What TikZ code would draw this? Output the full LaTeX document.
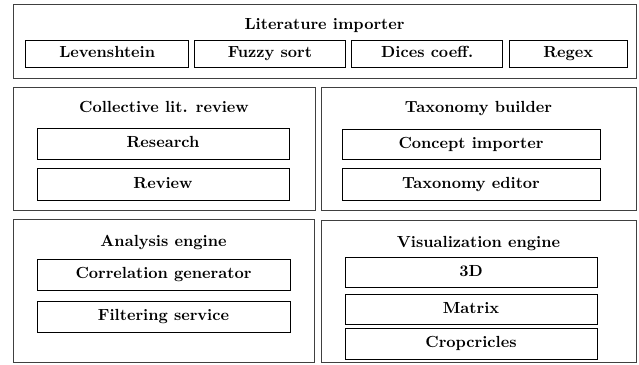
\documentclass[tikz,border=0pt]{standalone}
\begin{document}
\begin{tikzpicture}[x=0.6211pt,y=-0.6211pt,
  bx/.style n args={2}{draw=black, line width=0.5pt, inner sep=0pt, outer sep=0pt,
    minimum width=#1*0.6211pt, minimum height=#2*0.6211pt,
    font=\bfseries, text height=6.9pt, text depth=1.9pt},
  outerbox/.style n args={2}{draw=black!75, line width=0.55pt, inner sep=0pt, outer sep=0pt,
    minimum width=#1*0.6211pt, minimum height=#2*0.6211pt},
  ttl/.style={font=\bfseries, inner sep=0pt, text height=6.9pt, text depth=1.9pt}]
\useasboundingbox (0,0) rectangle (639,365);
% top group
\node[outerbox={623}{74}] (litbox) at (324.5,41) {};
\node[ttl] (littitle) at (324.5,25) {Literature importer};
\node[bx={163}{27}] (lev) at (107.2,53.5) {Levenshtein};
\node[bx={151.7}{27}] (fuzzy) at (269.9,53.5) {Fuzzy sort};
\node[bx={151}{27}] (dices) at (427.2,53.5) {Dices coeff.};
\node[bx={118.3}{27}] (regex) at (568.2,53.5) {Regex};
% middle left
\node[outerbox={302}{123}] (colbox) at (164,148.5) {};
\node[ttl] (coltitle) at (164,108) {Collective lit. review};
\node[bx={252}{31}] (research) at (163,143.5) {Research};
\node[bx={252}{32}] (review) at (163,184) {Review};
% middle right
\node[outerbox={315}{123}] (taxbox) at (478.5,148.5) {};
\node[ttl] (taxtitle) at (478.5,108) {Taxonomy builder};
\node[bx={258}{30}] (concept) at (471,144) {Concept importer};
\node[bx={258}{32}] (taxed) at (471,184) {Taxonomy editor};
% bottom left
\node[outerbox={301}{143}] (anabox) at (163.5,290.5) {};
\node[ttl] (anatitle) at (163.5,242) {Analysis engine};
\node[bx={253}{31}] (corr) at (163.5,274.5) {Correlation generator};
\node[bx={253}{31}] (filt) at (163.5,316.5) {Filtering service};
% bottom right
\node[outerbox={315}{142}] (visbox) at (478.5,291) {};
\node[ttl] (vistitle) at (478.5,243) {Visualization engine};
\node[bx={252}{30}] (threed) at (471,272) {3D};
\node[bx={252}{30}] (matrix) at (471,309) {Matrix};
\node[bx={252}{31}] (crop) at (471,343.5) {Cropcricles};
\end{tikzpicture}
\end{document}
